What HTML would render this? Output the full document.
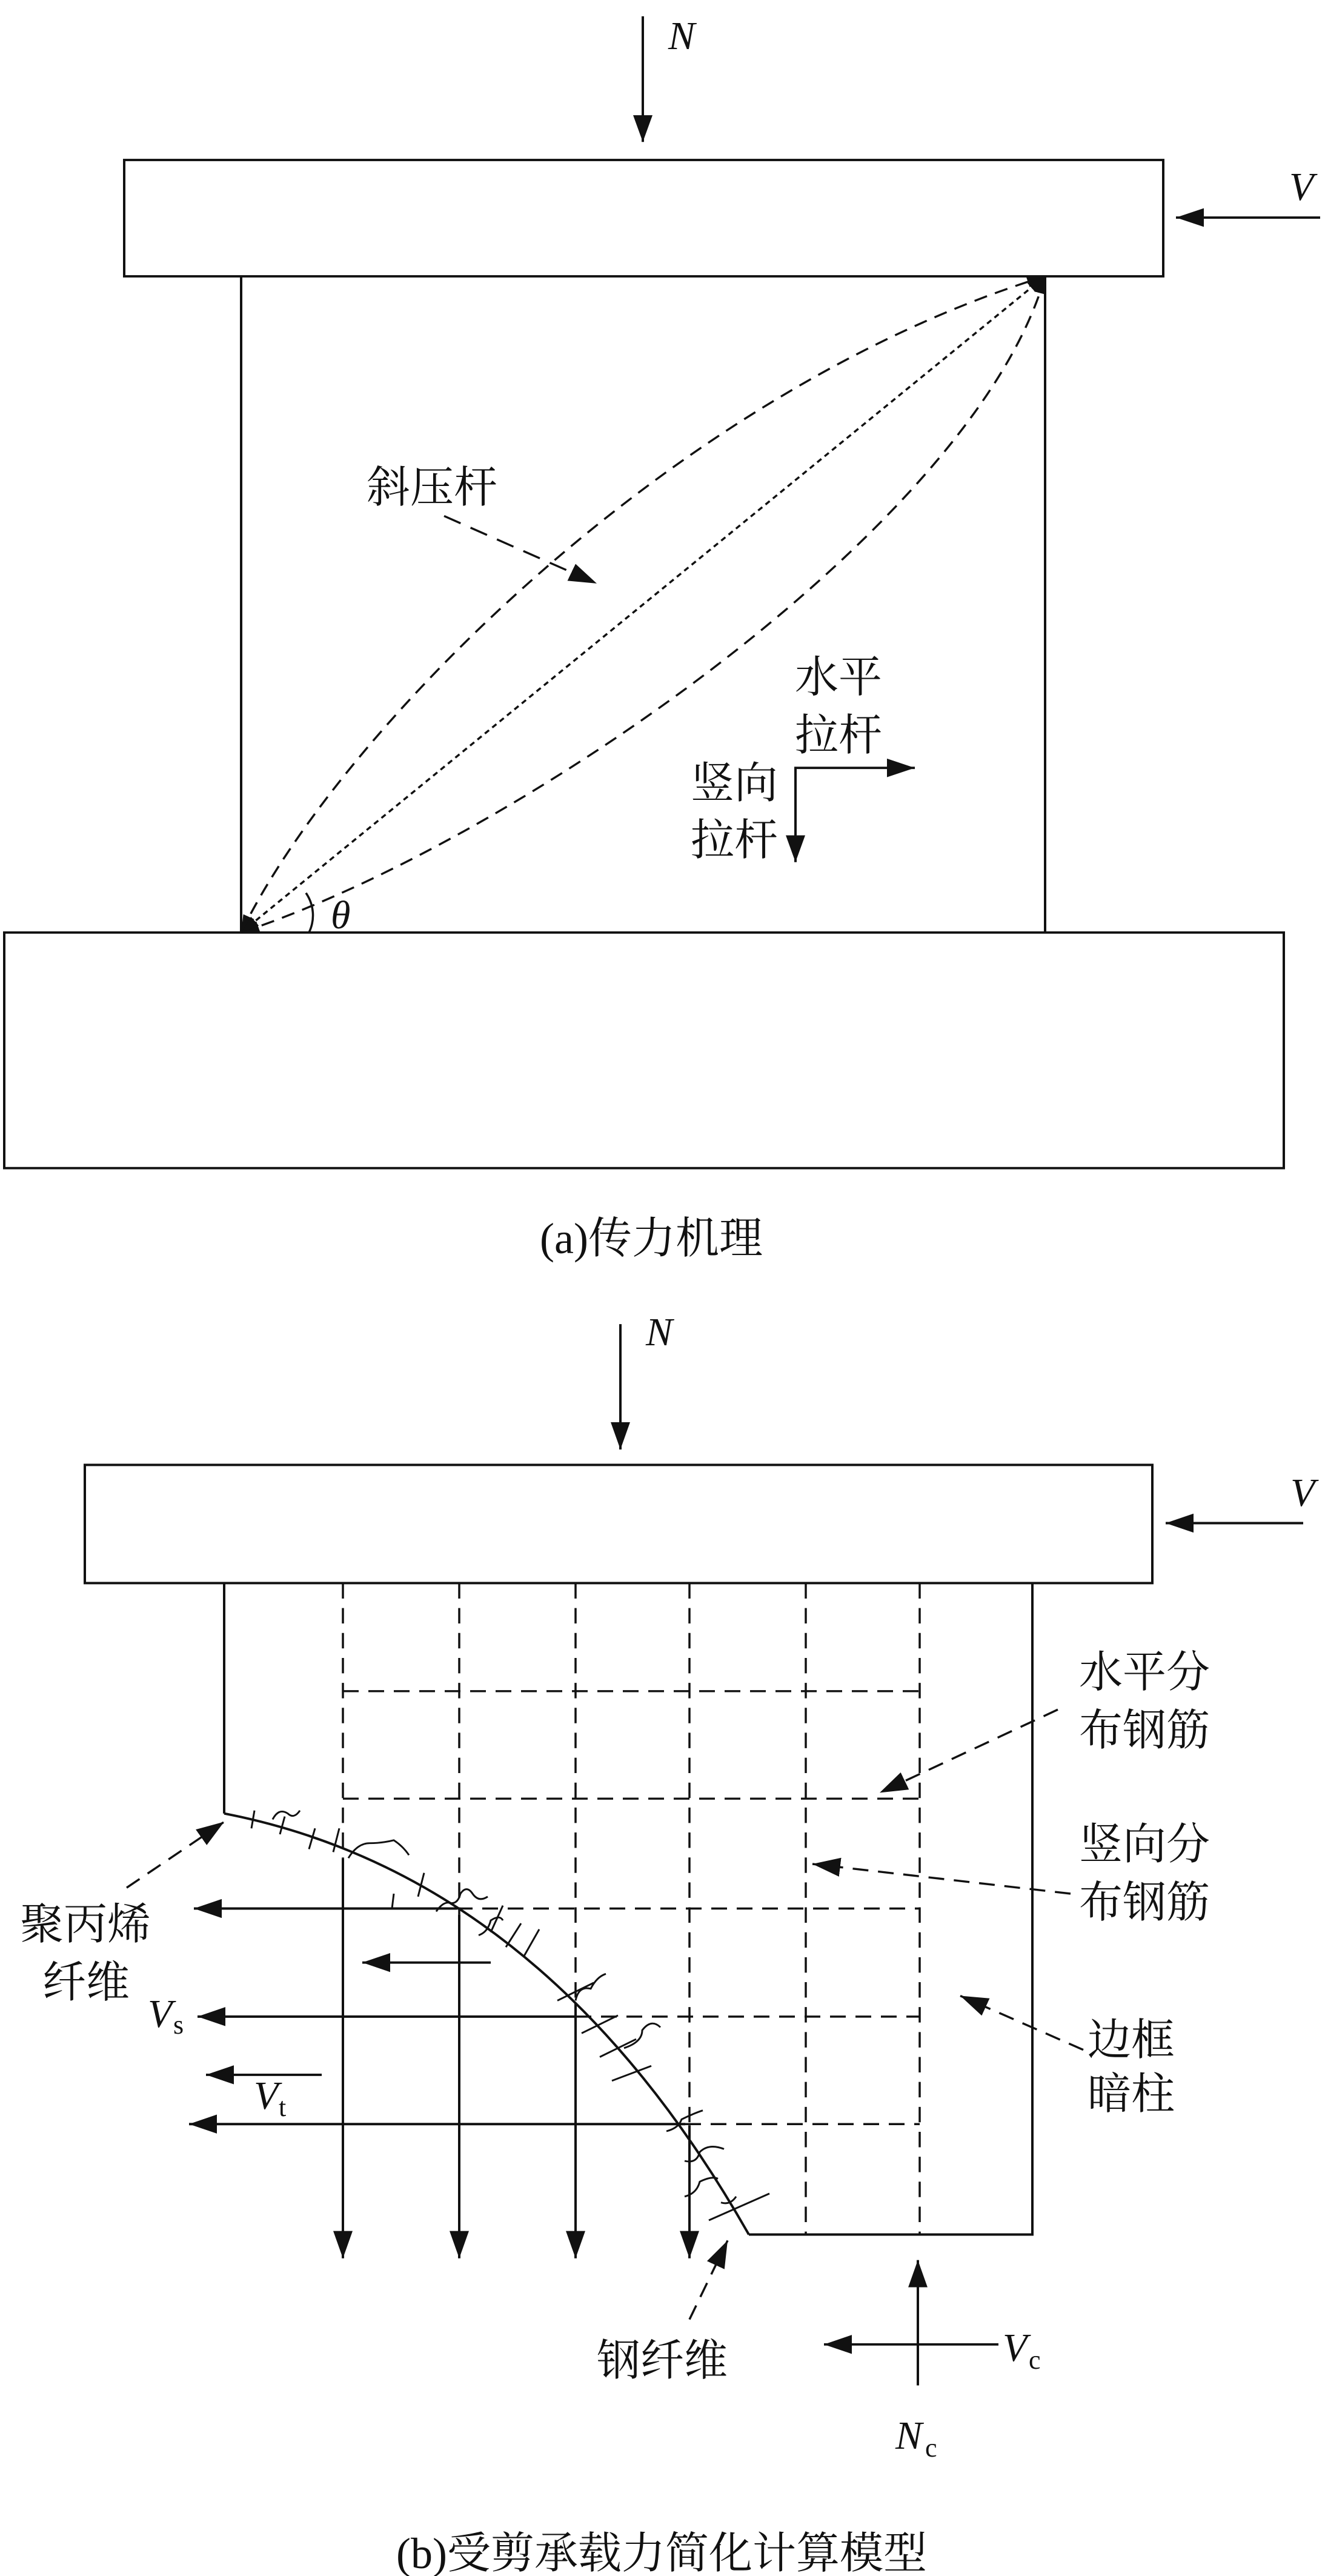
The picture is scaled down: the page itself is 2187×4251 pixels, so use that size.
<!DOCTYPE html>
<html><head><meta charset="utf-8"><style>
html,body{margin:0;padding:0;background:#fff}
svg{display:block}
.cn{font-family:"Liberation Serif","Noto Serif CJK SC","Noto Sans CJK SC",serif;font-size:72px;fill:#111}
.it{font-family:"Liberation Serif",serif;font-style:italic;font-size:66px;fill:#111}
.sub{font-family:"Liberation Serif",serif;font-size:44px;fill:#111}
</style></head><body>
<svg width="2187" height="4251" viewBox="0 0 2187 4251" xmlns="http://www.w3.org/2000/svg">
<defs>
<marker id="a2" viewBox="0 0 46 32" refX="46" refY="16" markerWidth="46" markerHeight="32" markerUnits="userSpaceOnUse" orient="auto-start-reverse">
<path d="M0,0 L46,16 L0,32 z" fill="#111"/>
</marker>
<marker id="a3" viewBox="0 0 30 20" refX="30" refY="10" markerWidth="30" markerHeight="20" markerUnits="userSpaceOnUse" orient="auto-start-reverse">
<path d="M0,0 L30,10 L0,20 z" fill="#111"/>
</marker>
</defs>
<g stroke="#111" stroke-width="4" fill="none" transform="matrix(1,0,0,0.96,0,0)">
<line x1="1061" y1="28" x2="1061" y2="244" marker-end="url(#a2)"/>
<rect x="205" y="275" width="1715" height="200"/>
<line x1="2179" y1="374" x2="1941" y2="374" marker-end="url(#a2)"/>
<line x1="398" y1="475" x2="398" y2="1603"/>
<line x1="1725" y1="475" x2="1725" y2="1603"/>
<rect x="7" y="1603" width="2112" height="405"/>
<g stroke-width="3.5">
<path d="M398,1603 C559,1257 1117,670 1725,475" stroke-dasharray="22,14" marker-start="url(#a3)" marker-end="url(#a3)"/>
<path d="M398,1603 C838,1452 1606,908 1725,475" stroke-dasharray="22,14" marker-start="url(#a3)" marker-end="url(#a3)"/>
<path d="M398,1603 L1725,475" stroke-dasharray="9,7" marker-start="url(#a3)" marker-end="url(#a3)"/>
<line x1="733" y1="887" x2="985" y2="1003" stroke-dasharray="30,18" marker-end="url(#a2)"/>
<path d="M505,1535 A70,70 0 0 1 510,1603"/>
</g>
<line x1="1313" y1="1320" x2="1313" y2="1482" marker-end="url(#a2)"/>
<line x1="1311" y1="1320" x2="1510" y2="1320" marker-end="url(#a2)"/>
</g>

<g stroke="#111" stroke-width="4" fill="none" transform="matrix(1,0,0,0.98,0,38)">
<line x1="1024" y1="2191" x2="1024" y2="2402" marker-end="url(#a2)"/>
<rect x="140" y="2428" width="1762" height="199"/>
<line x1="2151" y1="2526" x2="1924" y2="2526" marker-end="url(#a2)"/>
<polyline points="370,2627 370,3015"/>
<polyline points="1236,3724 1704,3724 1704,2627"/>
<path d="M370,3015 Q900,3120 1236,3724"/>
<g stroke-width="3.5" stroke-dasharray="26,16">
<line x1="566" y1="2627" x2="566" y2="3090"/>
<line x1="758" y1="2627" x2="758" y2="3185"/>
<line x1="950" y1="2627" x2="950" y2="3335"/>
<line x1="1138" y1="2627" x2="1138" y2="3540"/>
<line x1="1330" y1="2627" x2="1330" y2="3724"/>
<line x1="1518" y1="2627" x2="1518" y2="3724"/>
<line x1="566" y1="2809" x2="1518" y2="2809"/>
<line x1="566" y1="2990" x2="1518" y2="2990"/>
<line x1="754" y1="3175" x2="1518" y2="3175"/>
<line x1="950" y1="3357" x2="1518" y2="3357"/>
<line x1="1131" y1="3538" x2="1518" y2="3538"/>
<line x1="1746" y1="2840" x2="1452" y2="2980" marker-end="url(#a2)"/>
<line x1="1767" y1="3150" x2="1341" y2="3100" marker-end="url(#a2)"/>
<line x1="1788" y1="3413" x2="1585" y2="3322" marker-end="url(#a2)"/>
<line x1="209" y1="3140" x2="370" y2="3029" marker-end="url(#a2)"/>
<line x1="1138" y1="3867" x2="1201" y2="3734" marker-end="url(#a2)"/>
</g>
<line x1="566" y1="3090" x2="566" y2="3764" marker-end="url(#a2)"/>
<line x1="758" y1="3185" x2="758" y2="3764" marker-end="url(#a2)"/>
<line x1="950" y1="3335" x2="950" y2="3764" marker-end="url(#a2)"/>
<line x1="1138" y1="3540" x2="1138" y2="3764" marker-end="url(#a2)"/>
<line x1="754" y1="3175" x2="320" y2="3175" marker-end="url(#a2)"/>
<line x1="950" y1="3357" x2="326" y2="3357" marker-end="url(#a2)"/>
<line x1="1131" y1="3538" x2="312" y2="3538" marker-end="url(#a2)"/>
<line x1="810" y1="3266" x2="598" y2="3266" marker-end="url(#a2)"/>
<line x1="531" y1="3455" x2="340" y2="3455" marker-end="url(#a2)"/>
<line x1="1515" y1="3978" x2="1515" y2="3767" marker-end="url(#a2)"/>
<line x1="1648" y1="3909" x2="1360" y2="3909" marker-end="url(#a2)"/>
<g stroke-width="3">
<path d="M420,3010 l-5,30 M470,3020 l-8,30 M520,3040 l-10,35 M560,3040 l-10,40"/>
<path d="M450,3025 q10,-20 25,-10 q10,10 20,-5"/>
<path d="M575,3090 q15,-25 35,-25 q20,0 40,-5 q15,10 25,25"/>
<path d="M700,3115 l-10,40 M650,3150 l-3,25"/>
<path d="M720,3180 q10,-15 20,-15 q15,5 20,-15 q10,-15 20,0 q10,15 25,5"/>
<path d="M830,3170 l-20,45 M860,3200 l-25,40 M890,3210 l-25,45"/>
<path d="M790,3220 q15,-5 20,-25 q15,-10 20,0"/>
<path d="M950,3330 q5,-25 25,-20 q10,-20 25,-25"/>
<path d="M920,3330 l60,-30 M960,3385 l60,-30 M990,3425 l60,-30 M1010,3465 l65,-25"/>
<path d="M1030,3410 q30,-10 30,-30 q15,-20 30,-5"/>
<path d="M1100,3550 q20,-5 25,-20 q20,-10 35,-15"/>
<path d="M1130,3600 q20,5 25,-15 q15,-15 40,-5"/>
<path d="M1130,3660 q20,-5 25,-25 q20,-10 30,-5"/>
<path d="M1170,3700 l100,-45 M1190,3670 q15,5 25,-10"/>
</g>
</g>
<text class="it" x="1103" y="81">N</text>
<text class="it" x="2128" y="330">V</text>
<text class="it" x="546" y="1532" font-size="54">θ</text>
<text class="cn" x="605" y="829">斜压杆</text>
<text class="cn" x="1312" y="1142">水平</text>
<text class="cn" x="1312" y="1238">拉杆</text>
<text class="cn" x="1140" y="1317">竖向</text>
<text class="cn" x="1140" y="1411">拉杆</text>
<text class="cn" x="1075" y="2068" text-anchor="middle" font-size="66">(a)传力机理</text>

<text class="it" x="1066" y="2220">N</text>
<text class="it" x="2130" y="2485">V</text>
<text class="cn" x="1781" y="2784">水平分</text>
<text class="cn" x="1781" y="2880">布钢筋</text>
<text class="cn" x="1781" y="3068">竖向分</text>
<text class="cn" x="1781" y="3164">布钢筋</text>
<text class="cn" x="1795" y="3391">边框</text>
<text class="cn" x="1795" y="3480">暗柱</text>
<text class="cn" x="33" y="3200">聚丙烯</text>
<text class="cn" x="70" y="3296">纤维</text>
<text class="cn" x="985" y="3920">钢纤维</text>
<text class="it" x="244" y="3345">V</text><text class="sub" x="286" y="3356">s</text>
<text class="it" x="419" y="3480">V</text><text class="sub" x="460" y="3492">t</text>
<text class="it" x="1655" y="3896">V</text><text class="sub" x="1698" y="3909">c</text>
<text class="it" x="1478" y="4041">N</text><text class="sub" x="1527" y="4054">c</text>
<text class="cn" x="1092" y="4238" text-anchor="middle" font-size="70">(b)受剪承载力简化计算模型</text>
</svg>
</body></html>
